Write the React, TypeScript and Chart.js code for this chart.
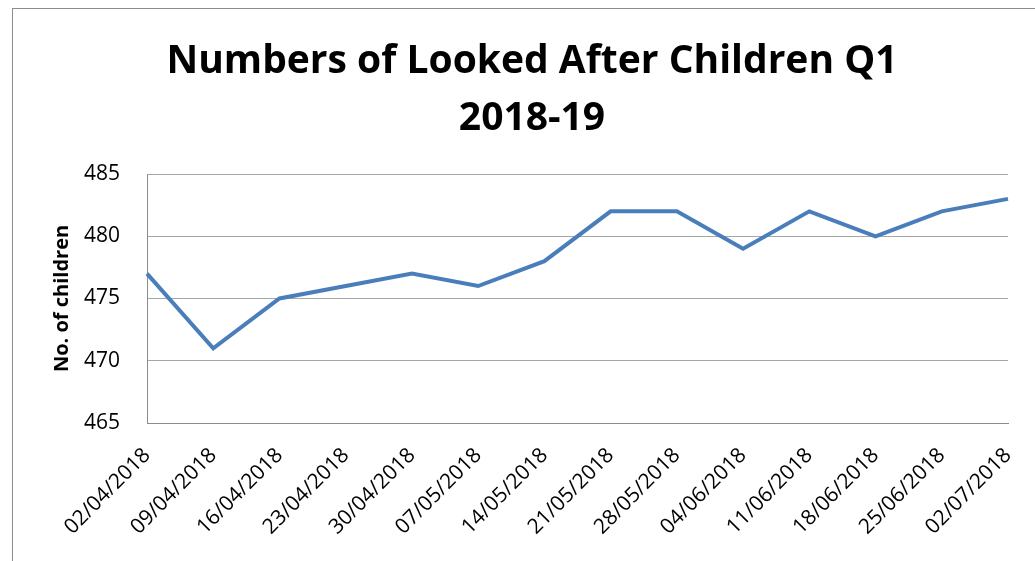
import React, { useEffect, useRef } from "react";
import { Chart, registerables } from "chart.js";

Chart.register(...registerables);

const categories = [
  "02/04/2018", "09/04/2018", "16/04/2018", "23/04/2018", "30/04/2018",
  "07/05/2018", "14/05/2018", "21/05/2018", "28/05/2018", "04/06/2018",
  "11/06/2018", "18/06/2018", "25/06/2018", "02/07/2018",
];
const childrenCounts = [477, 471, 475, 476, 477, 476, 478, 482, 482, 479, 482, 480, 482, 483];
const yTickValues = [465, 470, 475, 480, 485];
const titleLines = ["Numbers of Looked After Children Q1", "2018-19"];
const yAxisTitle = "No. of children";

const FONT = "'Open Sans', 'DejaVu Sans', sans-serif";

const titlePlugin = {
  id: "twoLineTitle",
  afterDraw(chart: any) {
    const ctx = chart.ctx;
    ctx.save();
    ctx.fillStyle = "#000000";
    ctx.textAlign = "center";
    ctx.textBaseline = "alphabetic";
    ctx.font = `bold 39px ${FONT}`;
    ctx.fillText(titleLines[0], 532, 73);
    ctx.fillText(titleLines[1], 532, 130);
    ctx.restore();
  },
};

export default function App() {
  const canvasRef = useRef<HTMLCanvasElement | null>(null);

  useEffect(() => {
    if (!canvasRef.current) return;
    const chart = new Chart(canvasRef.current, {
      type: "line",
      data: {
        labels: categories,
        datasets: [
          {
            label: "Looked After Children",
            data: childrenCounts,
            borderColor: "#4A7EBB",
            backgroundColor: "#4A7EBB",
            borderWidth: 4,
            pointRadius: 0,
            tension: 0,
            fill: false,
          },
        ],
      },
      options: {
        animation: false,
        responsive: false,
        maintainAspectRatio: false,
        layout: { padding: { top: 174, right: 27, left: 50, bottom: 0 } },
        plugins: {
          legend: { display: false },
          title: { display: false },
          tooltip: { enabled: false },
        },
        scales: {
          x: {
            offset: false,
            grid: { display: false, drawTicks: false },
            border: { display: true, color: "#8C8C8C", width: 1 },
            ticks: {
              color: "#000000",
              font: { family: FONT, size: 21 },
              maxRotation: 45,
              minRotation: 45,
              padding: 20,
              autoSkip: false,
            },
            afterFit(scale: any) {
              scale.height = 138;
              scale.paddingLeft = 0;
              scale.paddingRight = 0;
            },
          },
          y: {
            min: 465,
            max: 485,
            afterBuildTicks(scale: any) {
              scale.ticks = yTickValues.map((v) => ({ value: v }));
            },
            grid: { color: "#A6A6A6", lineWidth: 1, drawTicks: false },
            border: { display: true, color: "#8C8C8C", width: 1 },
            ticks: {
              color: "#000000",
              font: { family: FONT, size: 21 },
              padding: 27,
            },
            title: {
              display: true,
              text: yAxisTitle,
              color: "#000000",
              font: { family: FONT, size: 20, weight: "bold" },
              padding: 0,
            },
            afterFit(scale: any) {
              scale.width = 97;
              scale.paddingTop = 0;
              scale.paddingBottom = 0;
            },
          },
        },
      },
      plugins: [titlePlugin],
    });
    return () => chart.destroy();
  }, []);

  return (
    <div style={{ position: "fixed", left: 0, top: 0, width: 1035, height: 561, overflow: "hidden", background: "#ffffff" }}>
      <div
        style={{
          position: "absolute",
          left: 12,
          top: 8,
          width: 1100,
          height: 700,
          border: "1px solid #8C8C8C",
          boxSizing: "border-box",
        }}
      />
      <canvas
        ref={canvasRef}
        width={1035}
        height={561}
        style={{ position: "absolute", left: 0, top: 0, width: 1035, height: 561 }}
      />
    </div>
  );
}
